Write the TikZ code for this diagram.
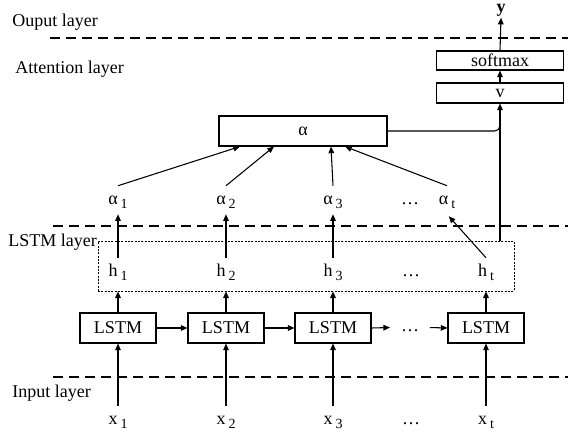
\documentclass[tikz,border=0pt]{standalone}
\usepackage{fontspec}
\setmainfont{Liberation Serif}
\usepackage{tikz}
\usetikzlibrary{arrows.meta,calc}
\newcommand{\lsub}[2]{#1\,\raisebox{-0.45ex}{\fontsize{10.5}{12}\selectfont #2}}
\tikzset{%
  every arrow/.style={
    -{Triangle[length=5pt,width=4.2pt]},
    line width=0.8pt
  },
  lstmbox/.style={
    draw,
    line width=0.8pt,
    minimum width=57pt,
    minimum height=22.5pt,
    inner sep=0pt
  },
  thinbox/.style={
    draw,
    line width=0.8pt,
    minimum width=95.25pt,
    inner sep=0pt
  },
  lbl/.style={
    inner sep=5pt,
    text height=9pt,
    text depth=2pt
  },
  layerline/.style={
    line width=1.3pt,
    dash pattern=on 7.5pt off 4.5pt
  },
  dotbox/.style={
    draw,
    line width=0.5pt,
    dash pattern=on 1.5pt off 1pt,
    minimum width=312pt,
    minimum height=37.5pt,
    inner sep=0pt
  },
}

\begin{document}
\begin{tikzpicture}[x=0.75pt, y=-0.75pt, font=\fontsize{13.5}{16}\selectfont]
\useasboundingbox (0,0) rectangle (568,435);

\draw[layerline] (50,38) -- (568,38);
\draw[layerline] (53,226) -- (568,226);
\draw[layerline] (53,377) -- (568,377);
\node[anchor=west, inner sep=0pt] (outlay) at (12,22) {Ouput layer};
\node[anchor=west, inner sep=0pt] (attlay) at (15,69) {Attention layer};
\node[dotbox] (hbox) at (306,266) {};
\node[anchor=west, inner sep=0pt, fill=white] (lstmlay) at (8,242) {LSTM layer};
\node[anchor=west, inner sep=0pt] (inlay) at (12,393) {Input layer};

\foreach \i/\x in {1/118,2/226,3/333,t/486}{
    \node[lstmbox] (lstm\i) at (\x,328) {LSTM};
    \node[lbl] (x\i) at (\x,420) {\lsub{x}{\i}};
    \node[lbl] (h\i) at (\x,272) {\lsub{h}{\i}};
    \draw[every arrow] (x\i) -- (lstm\i.south);
    \draw[every arrow] (lstm\i.north) -- (lstm\i.north |- hbox.south);
}
\foreach \i/\x in {1/118,2/226,3/333,t/447}
    \node[lbl] (a\i) at (\x,200) {\lsub{α}{\i}};

\node[lbl] (xdots) at (411,420) {…};
\node[lbl] (hdots) at (411,272) {…};
\node[lbl] (adots) at (410,200) {…};
\node[lbl, inner sep=8pt] (ldots) at (410,327) {…};

\draw[every arrow] (lstm1.east) -- (lstm2.west);
\draw[every arrow] (lstm2.east) -- (lstm3.west);
\draw[every arrow] (lstm3.east) -- (ldots);
\draw[every arrow] (ldots) -- (lstmt.west);

\draw[every arrow] (h1) -- (a1);
\draw[every arrow] (h2) -- (a2);
\draw[every arrow] (h3) -- (a3);
\draw[every arrow, shorten >=2pt] (ht.north) -- (at.south);

\node[lstmbox, minimum width=126pt] (alpha) at (303,131) {α};
\draw[every arrow] (a1.north) -- ([xshift=-47.25pt]alpha.south);
\draw[every arrow] (a2.north) -- ([xshift=-21.75pt]alpha.south);
\draw[every arrow] (a3.north) -- ([xshift=21pt]alpha.south);
\draw[every arrow] (at.north) -- ([xshift=31.5pt]alpha.south);

\node[thinbox, minimum height=15pt] (v) at (500,93) {v};
\node[thinbox, minimum height=14.25pt] (soft) at (500,60.5) {softmax};
\node[inner sep=1pt] (y) at (501,10) {\textbf{y}};

\draw[line width=0.8pt, rounded corners=4pt] (alpha.east) -| ($(v.south)+(0,22)$);
\draw[every arrow] (hbox.north -| v.south) -- (v.south);
\draw[every arrow] (v.north) -- (soft.south);
\draw[every arrow] (soft.north) -- (y.south);
\end{tikzpicture}
\end{document}
